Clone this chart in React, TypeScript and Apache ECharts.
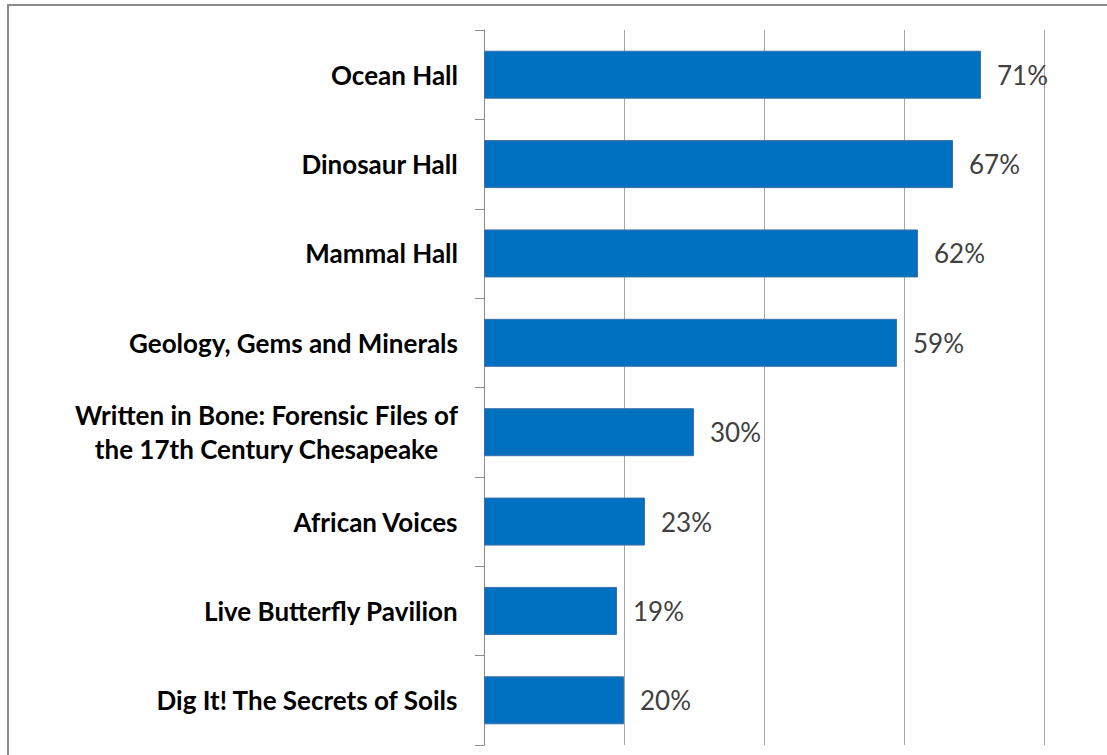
import React, { useEffect, useRef } from "react";
import * as echarts from "echarts";

const categories = [
  "Ocean Hall",
  "Dinosaur Hall",
  "Mammal Hall",
  "Geology, Gems and Minerals",
  "Written in Bone: Forensic Files of\nthe 17th Century Chesapeake",
  "African Voices",
  "Live Butterfly Pavilion",
  "Dig It! The Secrets of Soils",
];
const values = [71, 67, 62, 59, 30, 23, 19, 20];
const axisMin = 0;
const axisMax = 80;
const axisInterval = 20;

export default function App() {
  const ref = useRef<HTMLDivElement>(null);
  useEffect(() => {
    if (!ref.current) return;
    const chart = echarts.init(ref.current, null, { renderer: "svg" });
    chart.setOption({
      animation: false,
      backgroundColor: "#ffffff",
      graphic: [
        {
          type: "rect",
          shape: { x: 8, y: 5, width: 1200, height: 800 },
          style: { fill: "none", stroke: "#8a8a8a", lineWidth: 2 },
          silent: true,
        },
      ],
      grid: { left: 484, right: 63, top: 30, bottom: 10, containLabel: false },
      xAxis: {
        type: "value",
        min: axisMin,
        max: axisMax,
        interval: axisInterval,
        axisLabel: { show: false },
        axisLine: { show: false },
        axisTick: { show: false },
        splitLine: { show: true, lineStyle: { color: "#a6a6a6", width: 1 } },
      },
      yAxis: {
        type: "category",
        inverse: true,
        data: categories,
        axisLine: { show: true, lineStyle: { color: "#8c8c8c", width: 1 } },
        axisTick: { show: true, length: 9, lineStyle: { color: "#8c8c8c" } },
        axisLabel: {
          margin: 26,
          color: "#000000",
          fontFamily: "Lato",
          fontWeight: "bold",
          fontSize: 26,
          lineHeight: 34,
          formatter: (v: string) =>
            v
              .split("\n")
              .map((l) => "{c|" + l + "}")
              .join("\n"),
          rich: {
            c: {
              align: "center",
              fontFamily: "Lato",
              fontWeight: "bold",
              fontSize: 26,
              lineHeight: 34,
              color: "#000000",
            },
          },
        },
      },
      series: [
        {
          type: "bar",
          data: values,
          barWidth: 48,
          itemStyle: { color: "#0070C0", borderColor: "#3f6fa8", borderWidth: 1 },
          label: {
            show: true,
            position: "right",
            distance: 16,
            formatter: "{c}%",
            fontFamily: "Lato",
            fontSize: 26,
            color: "#404040",
          },
        },
      ],
    });
    return () => chart.dispose();
  }, []);
  return (
    <div
      ref={ref}
      style={{ position: "absolute", left: 0, top: 0, width: 1107, height: 755 }}
    />
  );
}
